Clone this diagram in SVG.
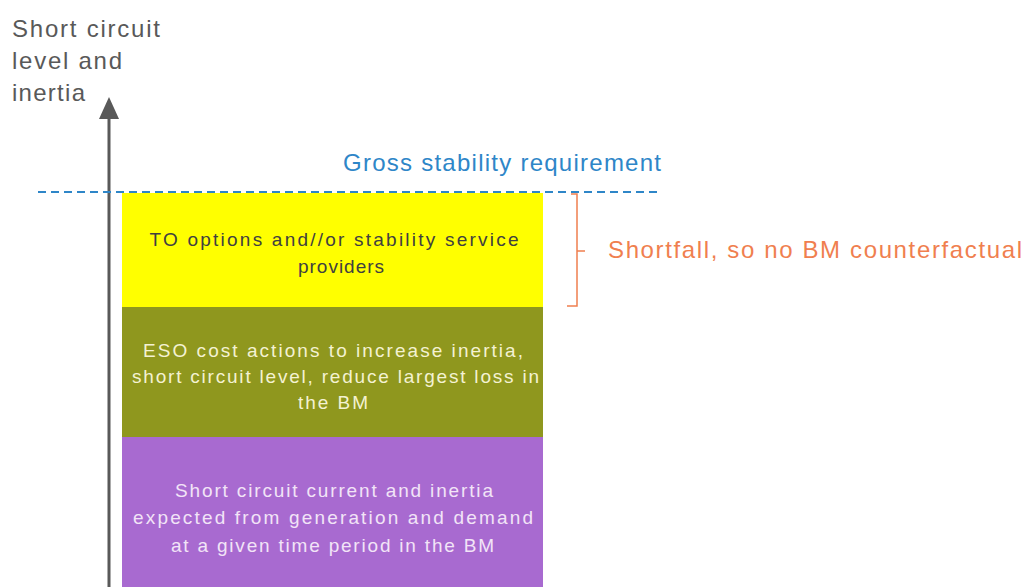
<svg xmlns="http://www.w3.org/2000/svg" width="1026" height="587" viewBox="0 0 1026 587">
<defs>
<style>
text{font-family:"Liberation Sans",Arial,sans-serif}
.ax{font-size:24px;fill:#595959}
.bx{font-size:19px;text-anchor:middle}
.ann{font-size:24px}
</style>
</defs>
<rect width="1026" height="587" fill="#fff"/>
<g id="axis">
<line x1="109" y1="587" x2="109" y2="115" stroke="#595959" stroke-width="3"/>
<polygon points="109,97 99,119 119,119" fill="#595959"/>
<text class="ax" x="12" y="37" textLength="148" lengthAdjust="spacing">Short circuit</text>
<text class="ax" x="12" y="69" textLength="110" lengthAdjust="spacing">level and</text>
<text class="ax" x="12" y="101" textLength="73" lengthAdjust="spacing">inertia</text>
</g>
<g id="box-yellow">
<rect x="122" y="193" width="421" height="114" fill="#ffff00"/>
<text class="bx" x="334" y="246" fill="#404040" textLength="369" lengthAdjust="spacing">TO options and//or stability service</text>
<text class="bx" x="341" y="273" fill="#404040" textLength="86" lengthAdjust="spacing">providers</text>
</g>
<g id="box-olive">
<rect x="122" y="307" width="421" height="130" fill="#8f971e"/>
<text class="bx" x="333" y="357" fill="#f4f2d2" textLength="380" lengthAdjust="spacing">ESO cost actions to increase inertia,</text>
<text class="bx" x="335.5" y="383" fill="#f4f2d2" textLength="407" lengthAdjust="spacing">short circuit level, reduce largest loss in</text>
<text class="bx" x="333" y="409" fill="#f4f2d2" textLength="70" lengthAdjust="spacing">the BM</text>
</g>
<g id="box-purple">
<rect x="122" y="437" width="421" height="150" fill="#a86ad0"/>
<text class="bx" x="334" y="497" fill="#f2e4f7" textLength="318" lengthAdjust="spacing">Short circuit current and inertia</text>
<text class="bx" x="333" y="524" fill="#f2e4f7" textLength="400" lengthAdjust="spacing">expected from generation and demand</text>
<text class="bx" x="332.5" y="552" fill="#f2e4f7" textLength="323" lengthAdjust="spacing">at a given time period in the BM</text>
</g>
<g id="requirement">
<line x1="38" y1="192" x2="661" y2="192" stroke="#2e86c8" stroke-width="2" stroke-dasharray="8,5"/>
<text class="ann" x="343" y="171" fill="#2e86c8" textLength="318" lengthAdjust="spacing">Gross stability requirement</text>
</g>
<g id="shortfall">
<path d="M571,194 H577 V306 H567 M577,251 H585" fill="none" stroke="#f07f4f" stroke-width="1.5"/>
<text class="ann" x="608" y="258" fill="#f07f4f" textLength="414" lengthAdjust="spacing">Shortfall, so no BM counterfactual</text>
</g>
</svg>
